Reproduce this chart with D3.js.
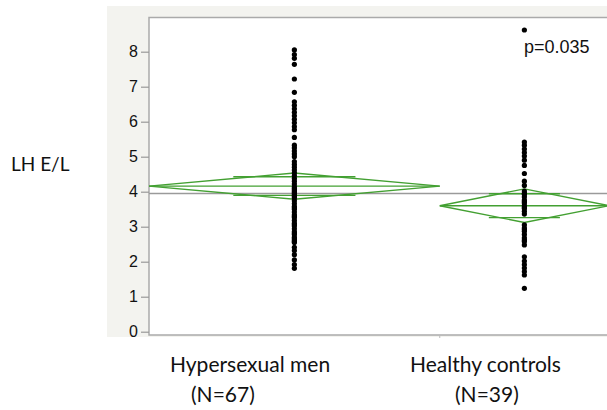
<!DOCTYPE html>
<html><head><meta charset="utf-8">
<script src="https://cdn.jsdelivr.net/npm/d3@7"></script>
<style>body{margin:0;background:#fff}svg{display:block}</style>
</head><body>
<svg id="c" width="607" height="410"></svg>
<script>
const groups = ["Hypersexual men", "Healthy controls"];
const groupN = ["(N=67)", "(N=39)"];
const counts = [67, 39];
const hyperValues = [8.05,7.92,7.81,7.64,7.22,6.84,
 6.57,6.47,6.37,6.27,6.17,6.07,5.97,5.86,5.77,
 5.55,5.33,5.25,5.16,5.08,5.00,
 4.86,4.78,4.70,4.62,4.54,4.46,4.38,4.30,4.22,4.14,4.06,3.98,3.90,3.82,3.74,3.66,3.58,3.50,3.42,3.34,3.26,3.18,3.10,3.02,2.94,2.86,2.78,2.70,2.62,2.55,
 4.10,4.02,3.94,3.86,3.54,3.30,3.06,2.82,2.66,2.58,
 2.41,2.32,2.20,2.05,1.92,1.81];
const controlValues = [8.62,5.42,5.33,5.22,5.12,5.02,4.90,4.75,4.52,4.30,4.18,
 4.02,3.95,3.93,3.85,3.76,3.72,3.68,3.60,3.55,3.52,3.44,3.36,
 3.05,2.96,2.92,2.87,2.78,2.68,2.62,2.58,2.48,
 2.14,2.02,1.92,1.82,1.72,1.62,1.24];
const groupMeans = [4.16, 3.60];
const groupCI = [0.375, 0.48];
const grandMean = 3.95;
const yTicks = [0,1,2,3,4,5,6,7,8];
const pLabel = "p=0.035";
const yLabel = "LH E/L";

(function () {
const svg = d3.select("#c");
const pLeft = 149, pTop = 17.5, pBottom = 335, pRight = 609;
const total = d3.sum(counts);
const x = d3.scaleLinear().domain([0, total]).range([pLeft, pRight]);
const y = d3.scaleLinear().domain([-0.094, 8.977]).range([pBottom, pTop]);
const starts = counts.map((c, i) => d3.sum(counts.slice(0, i)));
const centers = counts.map((c, i) => starts[i] + c / 2);

// panel
svg.append("rect").attr("x", 107).attr("y", 6).attr("width", 500).attr("height", 331).attr("fill", "#f3f3ef");
svg.append("rect").attr("x", pLeft).attr("y", pTop).attr("width", 607 - pLeft + 5).attr("height", pBottom - pTop)
  .attr("fill", "#fff").attr("stroke", "#aaaaaa").attr("stroke-width", 1.5);

// y axis
const yAxis = d3.axisLeft(y).tickValues(yTicks).tickSize(8).tickPadding(3).tickFormat(d3.format("d"));
const ga = svg.append("g").attr("transform", `translate(${pLeft},0)`).call(yAxis);
ga.select(".domain").remove();
ga.selectAll(".tick line").attr("stroke", "#999").attr("stroke-width", 1.2);
ga.selectAll(".tick text").attr("font-family", "Liberation Sans, Arial, sans-serif").attr("font-size", 16).attr("fill", "#111");

// boundary tick at bottom
svg.append("line").attr("x1", x(starts[1])).attr("x2", x(starts[1])).attr("y1", pBottom).attr("y2", pBottom + 3)
  .attr("stroke", "#bbb").attr("stroke-width", 1);

// grand mean
svg.append("line").attr("x1", pLeft).attr("x2", 607).attr("y1", y(grandMean)).attr("y2", y(grandMean))
  .attr("stroke", "#9a9a9a").attr("stroke-width", 1.5);

// diamonds
const green = "#43a032";
const dg = svg.append("g").attr("fill", "none").attr("stroke", green).attr("stroke-width", 1.4);
counts.forEach((c, i) => {
  const xl = x(starts[i]), xr = x(starts[i] + c), xc = x(centers[i]);
  const m = groupMeans[i], ci = groupCI[i];
  dg.append("path").attr("d", d3.line()([[xl, y(m)], [xc, y(m + ci)], [xr, y(m)], [xc, y(m - ci)], [xl, y(m)]]));
  dg.append("line").attr("x1", xl).attr("x2", xr).attr("y1", y(m)).attr("y2", y(m));
  const hw = (xr - xl) / 2, ol = hw * 0.42, d = ci / Math.SQRT2;
  [m + d, m - d].forEach(v => {
    dg.append("line").attr("x1", xc - ol).attr("x2", xc + ol).attr("y1", y(v)).attr("y2", y(v));
  });
});

// points
const allVals = [hyperValues, controlValues];
allVals.forEach((vals, i) => {
  svg.append("g").selectAll("circle").data(vals).join("circle")
    .attr("cx", x(centers[i])).attr("cy", d => y(d)).attr("r", 2.6).attr("fill", "#000");
});

// p label
svg.append("text").attr("x", 524).attr("y", 53).attr("font-family", "Liberation Sans, Arial, sans-serif")
  .attr("font-size", 18).attr("fill", "#111").text(pLabel);

// y label
svg.append("text").attr("x", 11).attr("y", 171).attr("font-family", "Lato, sans-serif")
  .attr("font-size", 19).attr("fill", "#111").text(yLabel);

// x labels
const lab = [{x1: 170, x2: 191}, {x1: 410, x2: 455}];
groups.forEach((g, i) => {
  svg.append("text").attr("x", lab[i].x1).attr("y", 372).attr("font-family", "Lato, sans-serif")
    .attr("font-size", 21).attr("fill", "#111").text(g);
  svg.append("text").attr("x", lab[i].x2).attr("y", 402).attr("font-family", "Lato, sans-serif")
    .attr("font-size", 21).attr("fill", "#111").text(groupN[i]);
});
})();
</script>
</body></html>
